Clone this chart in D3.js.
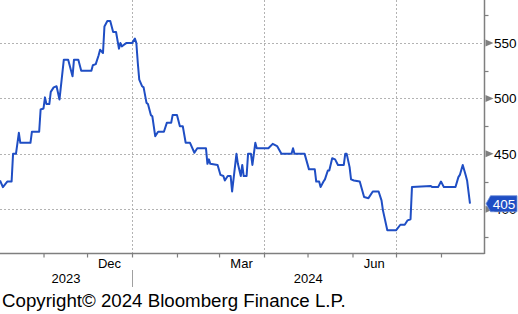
<!DOCTYPE html>
<html>
<head>
<meta charset="utf-8">
<script src="https://cdn.jsdelivr.net/npm/d3@7"></script>
<style>
  html, body { margin: 0; padding: 0; background: #fff; }
  svg { display: block; font-family: "Liberation Sans", Arial, sans-serif; }
</style>
</head>
<body>
<script>
(function(){
'use strict';

// series
var dates = ['2023-10-02','2023-10-04','2023-10-07','2023-10-10','2023-10-11','2023-10-13','2023-10-15','2023-10-16',
  '2023-10-23','2023-10-24','2023-10-29','2023-10-30','2023-11-01','2023-11-02','2023-11-03','2023-11-05',
  '2023-11-06','2023-11-08','2023-11-10','2023-11-12','2023-11-15','2023-11-16','2023-11-18','2023-11-21',
  '2023-11-22','2023-11-25','2023-11-27','2023-12-04','2023-12-05','2023-12-07','2023-12-09','2023-12-10',
  '2023-12-12','2023-12-13','2023-12-15','2023-12-17','2023-12-19','2023-12-21','2023-12-23','2023-12-24',
  '2023-12-25','2023-12-26','2023-12-28','2024-01-01','2024-01-03','2024-01-04','2024-01-05','2024-01-06',
  '2024-01-08','2024-01-09','2024-01-11','2024-01-12','2024-01-14','2024-01-15','2024-01-17','2024-01-19',
  '2024-01-23','2024-01-25','2024-01-28','2024-01-29','2024-02-01','2024-02-03','2024-02-05','2024-02-07',
  '2024-02-10','2024-02-13','2024-02-15','2024-02-21','2024-02-22','2024-02-23','2024-02-24','2024-02-29',
  '2024-03-02','2024-03-04','2024-03-05','2024-03-07','2024-03-09','2024-03-10','2024-03-13','2024-03-14',
  '2024-03-16','2024-03-17','2024-03-18','2024-03-20','2024-03-21','2024-03-23','2024-03-24','2024-03-26',
  '2024-03-27','2024-04-04','2024-04-07','2024-04-10','2024-04-13','2024-04-20','2024-04-21','2024-04-22',
  '2024-04-29','2024-05-02','2024-05-06','2024-05-07','2024-05-09','2024-05-10','2024-05-12','2024-05-13',
  '2024-05-15','2024-05-16','2024-05-18','2024-05-20','2024-05-22','2024-05-26','2024-05-27','2024-05-28',
  '2024-05-30','2024-05-31','2024-06-02','2024-06-06','2024-06-09','2024-06-12','2024-06-15','2024-06-19',
  '2024-06-21','2024-06-22','2024-06-25','2024-07-01','2024-07-04','2024-07-07','2024-07-09','2024-07-11',
  '2024-07-12','2024-07-25','2024-07-26','2024-07-30','2024-08-01','2024-08-03','2024-08-11','2024-08-13',
  '2024-08-14','2024-08-16','2024-08-18','2024-08-19','2024-08-21'];
var values = [426,420,425,425,450,450,469,460,
  460,470,470,490,491,501,495,495,
  506,510,511,499,535,535,535,520,
  535,535,525,525,530,531,539,544,
  541,565,570,570,560,560,545,550,
  547,548,550,550,554,550,532,517,
  511,510,496,495,485,484,466,470,
  470,478,478,485,485,475,475,460,
  460,451,455,455,441,445,441,440,
  431,430,426,430,430,416,450,441,
  430,440,430,430,450,450,440,460,
  455,455,459,457,450,450,455,450,
  450,436,436,425,425,420,425,427,
  435,435,446,445,440,440,450,450,
  438,427,426,425,411,410,416,416,
  408,399,381,381,386,386,390,391,
  420,421,420,420,425,420,420,429,
  431,440,431,426,405];

var yTicks = [400, 450, 500, 550];
var yMinor = [375, 425, 475, 525, 575];
var monthLabels = ['Dec', 'Mar', 'Jun'];
var yearLabels = ['2023', '2024'];
var lastLabel = '405';
var copyright = 'Copyright\u00A9 2024 Bloomberg Finance L.P.';

var width = 518;
var height = 314;
var plotW = 484.5;
var plotH = 253;

var parse = d3.timeParse('%Y-%m-%d');
var data = dates.map(function(d, i){ return {date: parse(d), value: values[i]}; });

var x = d3.scaleTime()
  .domain([parse('2023-10-02'), parse('2024-08-31')])
  .range([0, plotW]);
var y = d3.scaleLinear()
  .domain([360.5, 588.9])
  .range([plotH, 0]);

var svg = d3.select('body').append('svg')
  .attr('width', width)
  .attr('height', height);

// grid
var grid = svg.append('g');
grid.selectAll('.hg').data(yTicks).enter().append('line')
  .attr('x1', 0).attr('x2', plotW)
  .attr('y1', function(d){ return Math.round(y(d)) + 0.5; })
  .attr('y2', function(d){ return Math.round(y(d)) + 0.5; })
  .attr('stroke', '#b3b3b3').attr('stroke-dasharray', '2,2');

var quarters = [parse('2024-01-01'), parse('2024-04-01'), parse('2024-07-01')];
grid.selectAll('.vg').data(quarters).enter().append('line')
  .attr('x1', function(d){ return Math.round(x(d)) + 0.5; })
  .attr('x2', function(d){ return Math.round(x(d)) + 0.5; })
  .attr('y1', 0).attr('y2', plotH)
  .attr('stroke', '#b3b3b3').attr('stroke-dasharray', '2,2');

// line
var line = d3.line()
  .x(function(d){ return x(d.date); })
  .y(function(d){ return y(d.value); });
svg.append('path')
  .datum(data)
  .attr('d', line)
  .attr('fill', 'none')
  .attr('stroke', '#1f4ec4')
  .attr('stroke-width', 2)
  .attr('stroke-linejoin', 'round');

// bottom axis
var months = d3.timeMonth.range(parse('2023-11-01'), parse('2024-09-01'));
var xAxis = d3.axisBottom(x).tickValues(months).tickSize(4).tickFormat('');
var gx = svg.append('g')
  .attr('transform', 'translate(0,' + (plotH + 0.5) + ')')
  .call(xAxis);
gx.select('.domain').attr('stroke', '#7f7f7f').attr('stroke-width', 1.5).attr('d', 'M0,0H' + plotW);
gx.selectAll('.tick line').attr('stroke', '#7f7f7f').attr('stroke-width', 1.2);

svg.selectAll('.mlab').data(monthLabels).enter().append('text')
  .attr('x', function(d){
    var m = d3.timeParse('%b %Y')(d + (d === 'Dec' ? ' 2023' : ' 2024'));
    return (x(m) + x(d3.timeMonth.offset(m, 1))) / 2;
  })
  .attr('y', 268)
  .attr('text-anchor', 'middle')
  .attr('font-size', 13)
  .attr('fill', '#000')
  .text(function(d){ return d; });

var yearEdges = [0, x(parse('2024-01-01')), plotW];
svg.selectAll('.ylab').data(yearLabels).enter().append('text')
  .attr('x', function(d, i){ return (yearEdges[i] + yearEdges[i + 1]) / 2; })
  .attr('y', 283)
  .attr('text-anchor', 'middle')
  .attr('font-size', 13)
  .attr('fill', '#000')
  .text(function(d){ return d; });
svg.append('line')
  .attr('x1', Math.round(yearEdges[1]) + 0.5).attr('x2', Math.round(yearEdges[1]) + 0.5)
  .attr('y1', 270).attr('y2', 287)
  .attr('stroke', '#a0a0a0').attr('stroke-width', 1);

// right axis
var gy = svg.append('g').attr('transform', 'translate(' + plotW + ',0)');
gy.append('line').attr('x1', 0).attr('x2', 0).attr('y1', 0).attr('y2', plotH + 1)
  .attr('stroke', '#7f7f7f').attr('stroke-width', 1.5);
gy.selectAll('.minor').data(yMinor).enter().append('line')
  .attr('x1', 0).attr('x2', 4)
  .attr('y1', function(d){ return Math.round(y(d)) + 0.5; })
  .attr('y2', function(d){ return Math.round(y(d)) + 0.5; })
  .attr('stroke', '#7f7f7f').attr('stroke-width', 1.2);
gy.selectAll('.arrow').data(yTicks).enter().append('path')
  .attr('d', function(d){ var yy = y(d); return 'M1,' + (yy - 3.5) + 'L9,' + yy + 'L1,' + (yy + 3.5) + 'Z'; })
  .attr('fill', '#7f7f7f');
gy.selectAll('.ytxt').data(yTicks).enter().append('text')
  .attr('x', 9.5)
  .attr('y', function(d){ return y(d) + 5; })
  .attr('font-size', 13.5)
  .attr('fill', '#000')
  .text(function(d){ return d; });

// last value tag
var ty = y(values[values.length - 1]);
gy.append('path')
  .attr('d', 'M1.5,' + ty + 'L6,' + (ty - 8) + 'H32.5V' + (ty + 8) + 'H6Z')
  .attr('fill', '#1f4ec4')
  .attr('stroke', '#6f8fd8').attr('stroke-width', 0.8);
gy.append('text')
  .attr('x', 19.5)
  .attr('y', ty + 5)
  .attr('text-anchor', 'middle')
  .attr('font-size', 13.5)
  .attr('fill', '#fff')
  .text(lastLabel);

// copyright
svg.append('text')
  .attr('x', 2)
  .attr('y', 307)
  .attr('font-size', 18.7)
  .attr('fill', '#000')
  .text(copyright);

})();
</script>
</body>
</html>
